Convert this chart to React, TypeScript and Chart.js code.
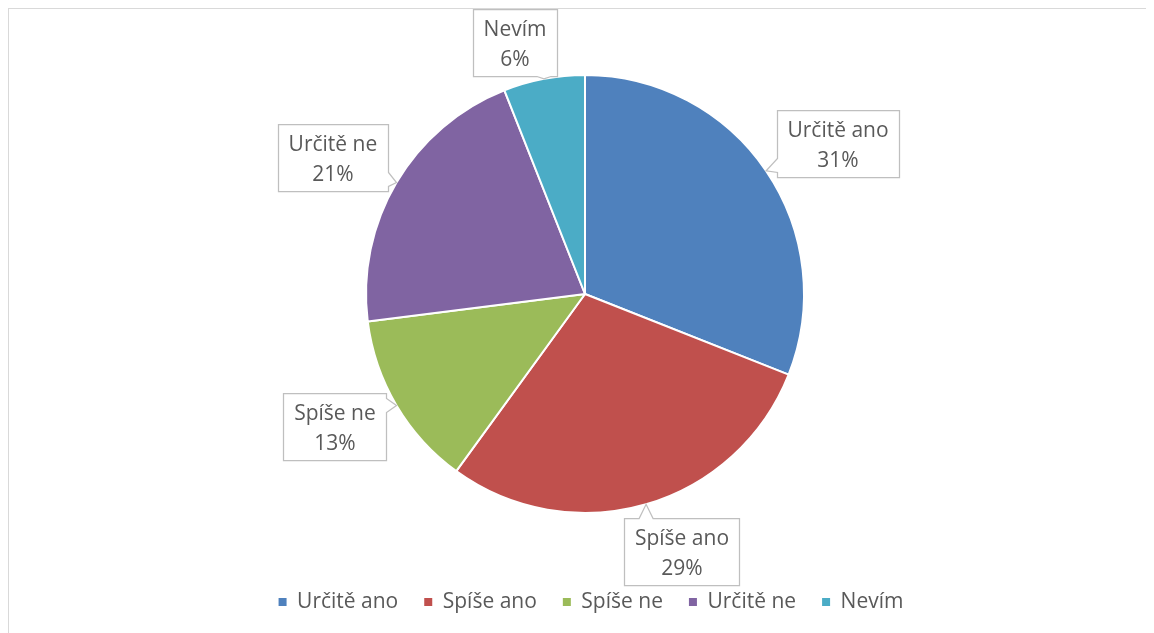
import React, { useEffect, useRef } from "react";
import { Chart, registerables } from "chart.js";

Chart.register(...registerables);

const CATEGORIES = ["Určitě ano", "Spíše ano", "Spíše ne", "Určitě ne", "Nevím"];
const VALUES = [31, 29, 13, 21, 6];
const COLORS = ["#4F81BD", "#C0504D", "#9BBB59", "#8064A2", "#4BACC6"];

// callout placement relative to each slice: angle shift (deg) and distance (x radius)
const LABEL_PLACEMENT = [
  { da: 3.4, rf: 1.345 },
  { da: -4.46, rf: 1.255 },
  { da: 2.6, rf: 1.293 },
  { da: -2.24, rf: 1.308 },
  { da: -4.72, rf: 1.194 },
];

const FONT_FAMILY = '"Open Sans", "Noto Sans", sans-serif';
const FONT_SIZE = 21;
const TEXT_COLOR = "#595959";
const LEGEND_SHIFT_X = 6;

const legendShiftPlugin = {
  id: "legendShift",
  afterLayout(chart: any) {
    if (chart.legend) {
      chart.legend.left += LEGEND_SHIFT_X;
      chart.legend.right += LEGEND_SHIFT_X;
    }
  },
};

const calloutPlugin = {
  id: "callouts",
  afterDatasetsDraw(chart: any) {
    const ctx = chart.ctx;
    const meta = chart.getDatasetMeta(0);
    const data = chart.data.datasets[0].data as number[];
    const total = data.reduce((a, b) => a + b, 0);
    ctx.save();
    ctx.font = `${FONT_SIZE}px ${FONT_FAMILY}`;
    meta.data.forEach((arc: any, i: number) => {
      const { x, y, startAngle, endAngle, outerRadius } = arc.getProps(
        ["x", "y", "startAngle", "endAngle", "outerRadius"],
        true
      );
      const mid = (startAngle + endAngle) / 2;
      const pl = LABEL_PLACEMENT[i];
      const a = mid + (pl.da * Math.PI) / 180;
      const cx = x + pl.rf * outerRadius * Math.cos(a);
      const cy = y + pl.rf * outerRadius * Math.sin(a);
      const tx = x + outerRadius * Math.cos(mid);
      const ty = y + outerRadius * Math.sin(mid);
      const line1 = chart.data.labels[i] as string;
      const line2 = Math.round((data[i] / total) * 100) + "%";
      const tw = Math.max(ctx.measureText(line1).width, ctx.measureText(line2).width);
      const w = Math.round(tw + 21);
      const h = 67;
      const x0 = Math.round(cx - w / 2) + 0.5;
      const x1 = x0 + w;
      const y0 = Math.round(cy - h / 2) + 0.5;
      const y1 = y0 + h;
      const over = {
        left: x0 - tx,
        right: tx - x1,
        top: y0 - ty,
        bottom: ty - y1,
      } as Record<string, number>;
      let side = "left";
      let best = -Infinity;
      for (const k of Object.keys(over)) {
        if (over[k] > best) {
          best = over[k];
          side = k;
        }
      }
      const clamp = (v: number, lo: number, hi: number) => Math.max(lo, Math.min(hi, v));
      const hw = 7;
      ctx.beginPath();
      ctx.moveTo(x0, y0);
      if (side === "top") {
        const bc = clamp(tx, x0 + 12, x1 - 12);
        ctx.lineTo(bc - hw, y0);
        ctx.lineTo(tx, ty);
        ctx.lineTo(bc + hw, y0);
      }
      ctx.lineTo(x1, y0);
      if (side === "right") {
        const bc = clamp(ty, y0 + 12, y1 - 12);
        ctx.lineTo(x1, bc - hw);
        ctx.lineTo(tx, ty);
        ctx.lineTo(x1, bc + hw);
      }
      ctx.lineTo(x1, y1);
      if (side === "bottom") {
        const bc = clamp(tx, x0 + 12, x1 - 12);
        ctx.lineTo(bc + hw, y1);
        ctx.lineTo(tx, ty);
        ctx.lineTo(bc - hw, y1);
      }
      ctx.lineTo(x0, y1);
      if (side === "left") {
        const bc = clamp(ty, y0 + 12, y1 - 12);
        ctx.lineTo(x0, bc + hw);
        ctx.lineTo(tx, ty);
        ctx.lineTo(x0, bc - hw);
      }
      ctx.closePath();
      ctx.fillStyle = "#ffffff";
      ctx.fill();
      ctx.strokeStyle = "#bfbfbf";
      ctx.lineWidth = 1.25;
      ctx.stroke();
      ctx.fillStyle = TEXT_COLOR;
      ctx.textAlign = "center";
      ctx.textBaseline = "middle";
      const my = (y0 + y1) / 2;
      ctx.fillText(line1, cx, my - 13);
      ctx.fillText(line2, cx, my + 17);
    });
    ctx.restore();
  },
};

export default function App() {
  const canvasRef = useRef<HTMLCanvasElement | null>(null);

  useEffect(() => {
    document.documentElement.style.overflow = "hidden";
    document.body.style.overflow = "hidden";
    const canvas = canvasRef.current;
    if (!canvas) return;
    const defaultGen = (Chart as any).overrides.doughnut.plugins.legend.labels.generateLabels;
    const chart = new Chart(canvas, {
      type: "pie",
      data: {
        labels: CATEGORIES,
        datasets: [
          {
            data: VALUES,
            backgroundColor: COLORS,
            borderColor: "#ffffff",
            borderWidth: 2,
          },
        ],
      },
      options: {
        responsive: false,
        animation: false,
        radius: 219,
        layout: { padding: { top: 13.5, bottom: 10.5, left: 7, right: 0 } },
        plugins: {
          tooltip: { enabled: false },
          legend: {
            position: "bottom",
            labels: {
              boxWidth: 8,
              boxHeight: 8,
              padding: 26,
              color: TEXT_COLOR,
              font: { family: FONT_FAMILY, size: FONT_SIZE },
              generateLabels: (c: any) =>
                defaultGen(c).map((l: any) => ({ ...l, lineWidth: 0 })),
            },
          },
        },
      } as any,
      plugins: [legendShiftPlugin, calloutPlugin],
    });
    return () => chart.destroy();
  }, []);

  return (
    <div
      style={{
        width: 1145,
        height: 624,
        borderTop: "1px solid #d9d9d9",
        borderLeft: "1px solid #d9d9d9",
        background: "#ffffff",
      }}
    >
      <canvas ref={canvasRef} width={1145} height={624} style={{ display: "block" }} />
    </div>
  );
}
